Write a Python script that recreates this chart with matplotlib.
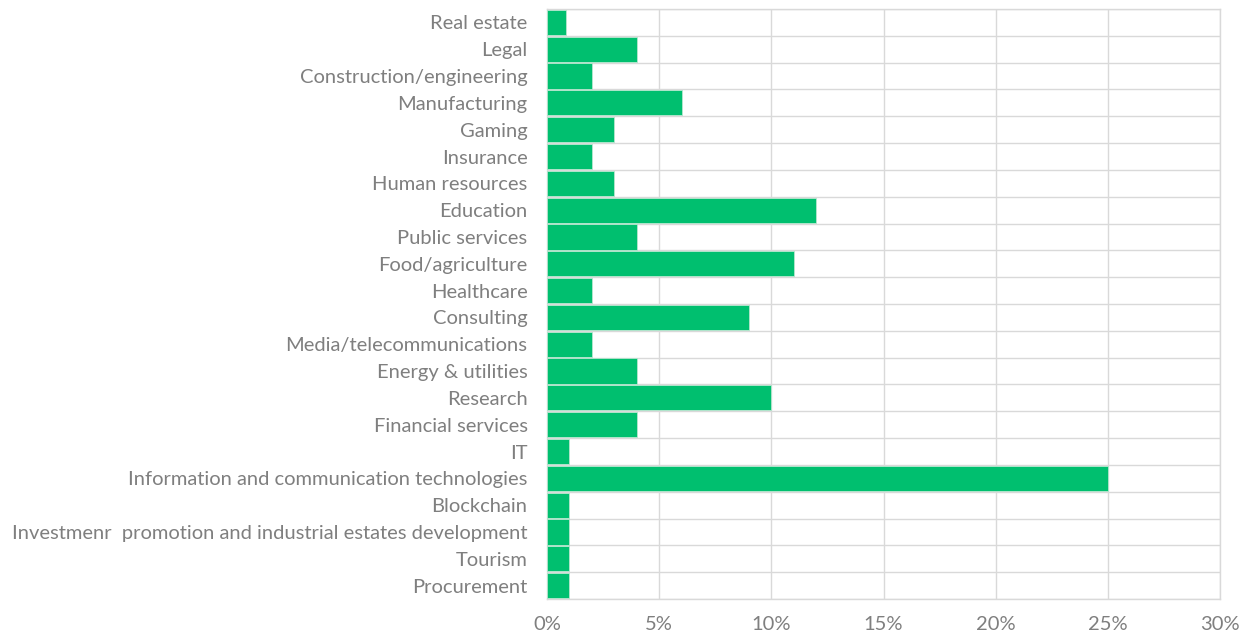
import matplotlib
matplotlib.use("Agg")
import matplotlib.pyplot as plt
from matplotlib.ticker import FuncFormatter, MultipleLocator

categories = [
    "Real estate", "Legal", "Construction/engineering", "Manufacturing", "Gaming",
    "Insurance", "Human resources", "Education", "Public services", "Food/agriculture",
    "Healthcare", "Consulting", "Media/telecommunications", "Energy & utilities",
    "Research", "Financial services", "IT", "Information and communication technologies",
    "Blockchain", "Investmenr  promotion and industrial estates development",
    "Tourism", "Procurement",
]
shares = [0.85, 4, 2, 6, 3, 2, 3, 12, 4, 11, 2, 9, 2, 4, 10, 4, 1, 25, 1, 1, 1, 1]

plt.rcParams["font.family"] = ["Lato", "DejaVu Sans"]
text_color = "#7f7f7f"
grid_color = "#d9d9d9"
bar_color = "#00bf6f"

fig = plt.figure(figsize=(12.45, 6.35), dpi=100)
ax = fig.add_axes([0.4394, 0.0567, 0.5406, 0.9291])

y = list(range(len(categories)))
ax.barh(y, shares, height=0.94, color=bar_color, edgecolor="#b8e6cf",
        linewidth=0.6, zorder=3)

ax.set_ylim(len(categories) - 0.5, -0.5)
ax.set_xlim(0, 30)
ax.set_yticks(y)
ax.set_yticklabels(categories)
ax.xaxis.set_major_locator(MultipleLocator(5))
ax.xaxis.set_major_formatter(FuncFormatter(lambda v, _: f"{v:.0f}%"))

# horizontal separators between categories
for b in [i + 0.5 for i in range(-1, len(categories))]:
    ax.axhline(b, color=grid_color, linewidth=1.0, zorder=1)
ax.grid(axis="x", color=grid_color, linewidth=1.0, zorder=1)

for s in ax.spines.values():
    s.set_color(grid_color)
    s.set_linewidth(1.0)

ax.tick_params(axis="both", length=0, colors=text_color, labelsize=14.5)
ax.tick_params(axis="y", pad=14)
ax.tick_params(axis="x", pad=12)

fig.savefig("out.png", dpi=100, facecolor="white")
